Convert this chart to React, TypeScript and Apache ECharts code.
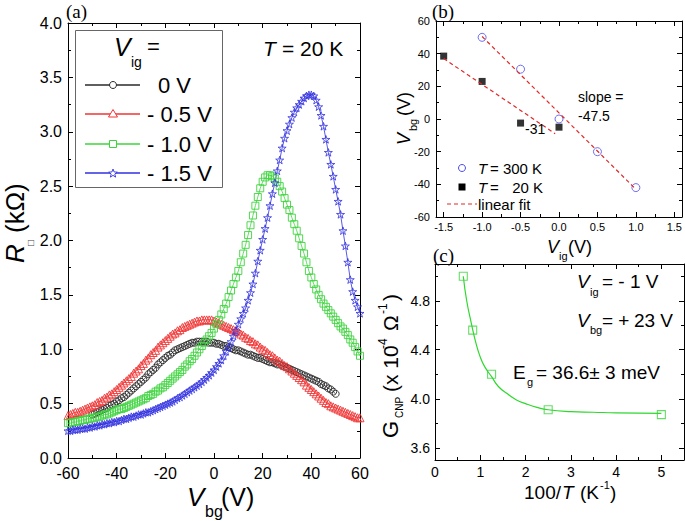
import React, { useEffect, useRef } from 'react';
import * as echarts from 'echarts';

const SANS = '"Liberation Sans", Arial, Helvetica, sans-serif';
const SERIF = '"Liberation Serif", "Times New Roman", serif';

const C_BLACK = '#2a2a2a';
const C_RED = '#f03434';
const C_GREEN = '#3ed43e';
const C_BLUE = '#3030e0';

// ---------- panel (a): R_sq (kOhm) vs V_bg (V), sweep every 1 V ----------
const VBG = [
  -60, -59, -58, -57, -56, -55, -54, -53, -52, -51,
  -50, -49, -48, -47, -46, -45, -44, -43, -42, -41,
  -40, -39, -38, -37, -36, -35, -34, -33, -32, -31,
  -30, -29, -28, -27, -26, -25, -24, -23, -22, -21,
  -20, -19, -18, -17, -16, -15, -14, -13, -12, -11,
  -10, -9, -8, -7, -6, -5, -4, -3, -2, -1,
  0, 1, 2, 3, 4, 5, 6, 7, 8, 9,
  10, 11, 12, 13, 14, 15, 16, 17, 18, 19,
  20, 21, 22, 23, 24, 25, 26, 27, 28, 29,
  30, 31, 32, 33, 34, 35, 36, 37, 38, 39,
  40, 41, 42, 43, 44, 45, 46, 47, 48, 49,
  50, 51, 52, 53, 54, 55, 56, 57, 58, 59,
  60,
];
// 0 V curve runs from -50 V to 50 V
const VBG_0V = VBG.slice(10, 111);
const R_0V = [
  0.40, 0.41, 0.42, 0.43, 0.44, 0.45, 0.46, 0.48, 0.49, 0.50,
  0.52, 0.53, 0.55, 0.56, 0.58, 0.60, 0.62, 0.64, 0.66, 0.68,
  0.70, 0.72, 0.74, 0.77, 0.79, 0.81, 0.83, 0.86, 0.88, 0.90,
  0.92, 0.94, 0.95, 0.97, 0.99, 1.00, 1.01, 1.02, 1.03, 1.04,
  1.05, 1.06, 1.06, 1.07, 1.07, 1.07, 1.07, 1.07, 1.06, 1.06,
  1.06, 1.05, 1.05, 1.04, 1.03, 1.03, 1.02, 1.01, 1.00, 0.99,
  0.99, 0.98, 0.97, 0.96, 0.95, 0.95, 0.94, 0.93, 0.92, 0.92,
  0.91, 0.90, 0.89, 0.88, 0.88, 0.87, 0.86, 0.86, 0.85, 0.84,
  0.83, 0.82, 0.81, 0.80, 0.79, 0.78, 0.77, 0.76, 0.75, 0.74,
  0.73, 0.72, 0.71, 0.70, 0.68, 0.67, 0.66, 0.64, 0.63, 0.61,
  0.59,
];
const R_05V = [
  0.39, 0.40, 0.41, 0.42, 0.42, 0.43, 0.44, 0.45, 0.46, 0.47,
  0.48, 0.49, 0.51, 0.52, 0.53, 0.55, 0.56, 0.58, 0.59, 0.61,
  0.63, 0.65, 0.67, 0.69, 0.71, 0.73, 0.75, 0.78, 0.80, 0.82,
  0.85, 0.87, 0.90, 0.92, 0.95, 0.97, 0.99, 1.02, 1.04, 1.06,
  1.08, 1.10, 1.12, 1.14, 1.15, 1.17, 1.18, 1.20, 1.21, 1.22,
  1.23, 1.24, 1.25, 1.26, 1.26, 1.27, 1.27, 1.27, 1.27, 1.27,
  1.26, 1.25, 1.24, 1.23, 1.22, 1.21, 1.20, 1.19, 1.18, 1.17,
  1.16, 1.14, 1.13, 1.11, 1.10, 1.08, 1.07, 1.05, 1.04, 1.02,
  1.00, 0.99, 0.97, 0.95, 0.94, 0.92, 0.90, 0.89, 0.87, 0.85,
  0.84, 0.82, 0.80, 0.78, 0.76, 0.74, 0.72, 0.70, 0.67, 0.65,
  0.63, 0.61, 0.59, 0.57, 0.55, 0.53, 0.51, 0.50, 0.48, 0.47,
  0.46, 0.45, 0.44, 0.43, 0.42, 0.41, 0.40, 0.39, 0.38, 0.37,
  0.37,
];
const R_10V = [
  0.32, 0.32, 0.33, 0.33, 0.34, 0.34, 0.35, 0.35, 0.36, 0.36,
  0.37, 0.37, 0.38, 0.38, 0.39, 0.40, 0.40, 0.41, 0.42, 0.43,
  0.44, 0.45, 0.45, 0.46, 0.47, 0.48, 0.49, 0.50, 0.51, 0.52,
  0.53, 0.54, 0.55, 0.57, 0.58, 0.59, 0.61, 0.62, 0.64, 0.65,
  0.67, 0.69, 0.71, 0.73, 0.75, 0.77, 0.79, 0.81, 0.84, 0.86,
  0.89, 0.91, 0.94, 0.97, 1.00, 1.03, 1.06, 1.09, 1.12, 1.15,
  1.19, 1.23, 1.27, 1.32, 1.37, 1.42, 1.48, 1.54, 1.60, 1.66,
  1.72, 1.80, 1.88, 1.96, 2.05, 2.14, 2.23, 2.32, 2.40, 2.48,
  2.54, 2.58, 2.60, 2.60, 2.59, 2.57, 2.54, 2.50, 2.45, 2.39,
  2.33, 2.28, 2.21, 2.15, 2.09, 2.02, 1.95, 1.88, 1.80, 1.72,
  1.66, 1.60, 1.55, 1.50, 1.46, 1.42, 1.39, 1.36, 1.33, 1.30,
  1.27, 1.24, 1.21, 1.19, 1.16, 1.13, 1.09, 1.06, 1.02, 0.98,
  0.94,
];
const R_15V = [
  0.25, 0.25, 0.26, 0.26, 0.26, 0.27, 0.27, 0.27, 0.28, 0.28,
  0.29, 0.29, 0.30, 0.30, 0.31, 0.31, 0.32, 0.32, 0.33, 0.33,
  0.34, 0.34, 0.35, 0.36, 0.36, 0.37, 0.38, 0.38, 0.39, 0.40,
  0.40, 0.41, 0.42, 0.42, 0.43, 0.44, 0.45, 0.46, 0.47, 0.48,
  0.49, 0.50, 0.51, 0.52, 0.535, 0.55, 0.56, 0.575, 0.59, 0.605,
  0.62, 0.635, 0.65, 0.665, 0.68, 0.70, 0.72, 0.74, 0.76, 0.785,
  0.81, 0.84, 0.87, 0.90, 0.94, 0.98, 1.02, 1.07, 1.12, 1.17,
  1.23, 1.28, 1.33, 1.38, 1.45, 1.52, 1.60, 1.70, 1.81, 1.91,
  2.01, 2.11, 2.21, 2.32, 2.43, 2.53, 2.64, 2.74, 2.85, 2.94,
  3.01, 3.07, 3.13, 3.18, 3.22, 3.25, 3.28, 3.31, 3.33, 3.34,
  3.34, 3.33, 3.29, 3.23, 3.15, 3.05, 2.93, 2.81, 2.70, 2.59,
  2.47, 2.36, 2.24, 2.09, 1.95, 1.80, 1.64, 1.53, 1.45, 1.39,
  1.33,
];
const A_X_TICKS = [-60, -40, -20, 0, 20, 40, 60];
const A_X_MINOR = [-50, -30, -10, 10, 30, 50];
const A_Y_TICKS = [0, 0.5, 1, 1.5, 2, 2.5, 3, 3.5, 4];
const A_Y_MINOR = [0.25, 0.75, 1.25, 1.75, 2.25, 2.75, 3.25, 3.75];
const A_LEGEND = ['0 V', '- 0.5 V', '- 1.0 V', '- 1.5 V'];

// ---------- panel (b): CNP position V_bg vs V_ig ----------
const VIG_300K = [-1, -0.5, 0, 0.5, 1];
const VBG_300K = [50, 30.5, 0, -20, -42];
const VIG_20K = [-1.5, -1, -0.5, 0];
const VBG_20K = [38.5, 23, -2.5, -5];
const FIT_300K_X = [-1, 1];
const FIT_300K_Y = [50.5, -43];
const FIT_20K_X = [-1.5, -0.05];
const FIT_20K_Y = [37, -9];
const B_X_TICKS = [-1.5, -1, -0.5, 0, 0.5, 1, 1.5];
const B_X_MINOR = [-1.25, -0.75, -0.25, 0.25, 0.75, 1.25];
const B_Y_TICKS = [-60, -40, -20, 0, 20, 40, 60];
const B_Y_MINOR = [-50, -30, -10, 10, 30, 50];

// ---------- panel (c): G_CNP vs 100/T ----------
const INV_T = [0.625, 0.833, 1.25, 2.5, 5];
const G_CNP = [5.0, 4.56, 4.2, 3.91, 3.87];
const FIT_INV_T = [0.625, 0.7, 0.8, 0.9, 1.0, 1.1, 1.25, 1.4, 1.6, 1.8, 2.0, 2.25, 2.5, 3.0, 3.5, 4.0, 5.0];
const FIT_G = [5.0, 4.80, 4.62, 4.46, 4.34, 4.26, 4.18, 4.10, 4.04, 3.99, 3.96, 3.93, 3.91, 3.895, 3.89, 3.885, 3.88];
const C_X_TICKS = [0, 1, 2, 3, 4, 5];
const C_X_MINOR = [0.5, 1.5, 2.5, 3.5, 4.5];
const C_Y_TICKS = [3.6, 4.0, 4.4, 4.8];
const C_Y_MINOR = [3.8, 4.2, 4.6, 5.0];

const STAR_PATH =
  'path://M50,0 L61.8,34.5 L97.6,34.5 L68.8,55.9 L79.4,90.5 L50,69.1 L20.6,90.5 L31.2,55.9 L2.4,34.5 L38.2,34.5 Z';

function axesSet(dim: 'x' | 'y', grid: number, min: number, max: number, majors: number[], minors: number[],
  fmt: (v: number) => string, fs: number, margin: number) {
  const base: any = { type: 'value', gridIndex: grid, min, max, splitLine: { show: false }, silent: true };
  const sides = dim === 'x' ? ['bottom', 'top'] : ['left', 'right'];
  const tick = (vals: number[], len: number) => ({
    show: true, inside: true, length: len, customValues: vals, lineStyle: { color: '#000', width: 1 },
  });
  return [
    {
      ...base, position: sides[0],
      axisLine: { show: true, onZero: false, lineStyle: { color: '#000', width: 1 } },
      axisTick: tick(majors, 5),
      axisLabel: { show: true, customValues: majors, formatter: fmt, fontSize: fs, fontFamily: SANS, color: '#000', margin },
    },
    {
      ...base, position: sides[1],
      axisLine: { show: true, onZero: false, lineStyle: { color: '#000', width: 1 } },
      axisTick: tick(majors, 5), axisLabel: { show: false },
    },
    { ...base, position: sides[0], axisLine: { show: false, onZero: false }, axisTick: tick(minors, 3), axisLabel: { show: false } },
    { ...base, position: sides[1], axisLine: { show: false, onZero: false }, axisTick: tick(minors, 3), axisLabel: { show: false } },
  ];
}

function txt(text: string, x: number, y: number, o: any = {}) {
  return {
    type: 'text', x, y, rotation: o.rot || 0, silent: true, z: 100,
    style: {
      text, fill: o.fill || '#000', fontSize: o.size || 16, fontFamily: o.family || SANS,
      fontStyle: o.italic ? 'italic' : 'normal',
      textAlign: o.align || 'left', align: o.align || 'left',
      textVerticalAlign: 'middle', verticalAlign: 'middle',
    },
  };
}

function starPoints(cx: number, cy: number, r: number) {
  const pts: number[][] = [];
  for (let k = 0; k < 10; k++) {
    const rr = k % 2 === 0 ? r : r * 0.42;
    const a = -Math.PI / 2 + (k * Math.PI) / 5;
    pts.push([cx + rr * Math.cos(a), cy + rr * Math.sin(a)]);
  }
  return pts;
}

function buildOption() {
  const pair = (xs: number[], ys: number[]) => xs.map((x, i) => [x, ys[i]]);
  const aSeries = (name: string, xs: number[], ys: number[], color: string, symbol: string, size: number, bw: number) => ({
    type: 'line', name, xAxisIndex: 0, yAxisIndex: 0, data: pair(xs, ys),
    symbol, symbolSize: size, showAllSymbol: true, symbolKeepAspect: true,
    itemStyle: { color: 'rgba(255,255,255,0)', borderColor: color, borderWidth: bw },
    lineStyle: { color, width: 0.8 }, silent: true, emphasis: { disabled: true },
  });

  const R = Math.PI / 2;
  const legendY = [85, 114, 144, 173];
  const legendColors = [C_BLACK, C_RED, C_GREEN, C_BLUE];

  const graphics: any[] = [
    // panel labels
    txt('(a)', 66, 11, { size: 19, family: SERIF }),
    txt('(b)', 432, 11, { size: 19, family: SERIF }),
    txt('(c)', 433, 255, { size: 19, family: SERIF }),

    // (a) annotation
    txt('T', 263, 48, { size: 21, italic: true }),
    txt('= 20 K', 282, 48, { size: 21 }),

    // (a) legend box
    { type: 'rect', z: 90, silent: true, shape: { x: 75.5, y: 30.5, width: 147, height: 157 }, style: { fill: '#fff', stroke: '#666', lineWidth: 1 } },
    txt('V', 114, 47, { size: 25, italic: true }),
    txt('ig', 131, 62, { size: 14 }),
    txt('=', 147, 46, { size: 22 }),
    txt(A_LEGEND[0], 158, legendY[0], { size: 22 }),
    txt(A_LEGEND[1], 147, legendY[1], { size: 22 }),
    txt(A_LEGEND[2], 147, legendY[2], { size: 22 }),
    txt(A_LEGEND[3], 147, legendY[3], { size: 22 }),

    // (a) axis titles
    txt('V', 187, 497, { size: 26, italic: true }),
    txt('bg', 205, 511, { size: 16 }),
    txt('(V)', 221, 497, { size: 25 }),
    txt('R', 15, 263, { size: 26, italic: true, rot: R }),
    txt('\u25A1', 30, 246, { size: 10, rot: R, fill: '#444' }),
    txt('(k\u03A9)', 15, 233, { size: 26, rot: R }),

    // (b) axis titles
    txt('V', 404, 145, { size: 18, italic: true, rot: R }),
    txt('bg', 413, 131, { size: 11, rot: R }),
    txt('(V)', 404, 116, { size: 18, rot: R }),
    txt('V', 547, 247, { size: 18, italic: true }),
    txt('ig', 559, 256, { size: 11 }),
    txt('(V)', 568, 247, { size: 18 }),
    // (b) annotations
    txt('slope =', 578, 97, { size: 14 }),
    txt('-47.5', 578, 116, { size: 14 }),
    txt('-31', 525, 129, { size: 14 }),
    // (b) legend
    { type: 'circle', z: 95, silent: true, shape: { cx: 462, cy: 168, r: 3.5 }, style: { fill: 'none', stroke: '#4b4bea', lineWidth: 1 } },
    { type: 'rect', z: 95, silent: true, shape: { x: 458.5, y: 183.5, width: 7, height: 7 }, style: { fill: '#000' } },
    { type: 'line', z: 95, silent: true, shape: { x1: 447, y1: 204, x2: 477, y2: 204 }, style: { stroke: '#e02828', lineWidth: 1.2, lineDash: [4, 3] } },
    txt('T', 478, 168, { size: 15, italic: true }),
    txt('= 300 K', 490, 168, { size: 15 }),
    txt('T', 478, 187, { size: 15, italic: true }),
    txt('=', 490, 187, { size: 15 }),
    txt('20 K', 543, 187, { size: 15, align: 'right' }),
    txt('linear fit', 478, 204, { size: 15 }),

    // (c) annotations
    txt('V', 577, 281, { size: 19, italic: true }),
    txt('ig', 590, 292, { size: 11 }),
    txt('= - 1 V', 602, 281, { size: 19 }),
    txt('V', 577, 320, { size: 19, italic: true }),
    txt('bg', 590, 330, { size: 11 }),
    txt('= +', 602, 320, { size: 19 }),
    txt('23 V', 673, 320, { size: 19, align: 'right' }),
    txt('E', 513, 372, { size: 19 }),
    txt('g', 527, 382, { size: 11 }),
    txt('= 36.6\u00B1 3 meV', 536, 372, { size: 19 }),
    // (c) axis titles
    txt('100/', 524, 492, { size: 19 }),
    txt('T', 562, 492, { size: 19, italic: true }),
    txt('(K', 580, 492, { size: 19 }),
    txt('-1', 600, 485, { size: 11 }),
    txt(')', 610, 492, { size: 19 }),
    txt('G', 390, 438, { size: 22, rot: R }),
    txt('CNP', 399, 418, { size: 10, rot: R }),
    txt('(x 10', 390, 392, { size: 21, rot: R }),
    txt('-4', 383, 349, { size: 12, rot: R }),
    txt('\u03A9', 390, 331, { size: 21, rot: R }),
    txt('-1', 383, 314, { size: 12, rot: R }),
    txt(')', 390, 301, { size: 21, rot: R }),
  ];

  // (a) legend sample lines + markers
  legendY.forEach((y, i) => {
    graphics.push({ type: 'line', z: 95, silent: true, shape: { x1: 85, y1: y, x2: 140, y2: y }, style: { stroke: legendColors[i], lineWidth: 1.3 } });
  });
  graphics.push({ type: 'circle', z: 96, silent: true, shape: { cx: 113, cy: legendY[0], r: 3.5 }, style: { fill: '#fff', stroke: C_BLACK, lineWidth: 1 } });
  graphics.push({ type: 'polygon', z: 96, silent: true, shape: { points: [[113, legendY[1] - 4.5], [117.5, legendY[1] + 3], [108.5, legendY[1] + 3]] }, style: { fill: '#fff', stroke: C_RED, lineWidth: 1 } });
  graphics.push({ type: 'rect', z: 96, silent: true, shape: { x: 109.5, y: legendY[2] - 3.5, width: 7, height: 7 }, style: { fill: '#fff', stroke: C_GREEN, lineWidth: 1 } });
  graphics.push({ type: 'polygon', z: 96, silent: true, shape: { points: starPoints(113, legendY[3] + 0.5, 4.5) }, style: { fill: '#fff', stroke: C_BLUE, lineWidth: 0.9 } });

  const fmt1 = (v: number) => v.toFixed(1);
  const fmt0 = (v: number) => String(Math.round(v));

  return {
    animation: false,
    backgroundColor: '#fff',
    grid: [
      { left: 68, top: 23, width: 292, height: 435, outerBoundsMode: 'none', containLabel: false },
      { left: 436, top: 21, width: 246, height: 196, outerBoundsMode: 'none', containLabel: false },
      { left: 435, top: 264, width: 249, height: 196, outerBoundsMode: 'none', containLabel: false },
    ],
    xAxis: [
      ...axesSet('x', 0, -60, 60, A_X_TICKS, A_X_MINOR, fmt0, 16, 7),
      ...axesSet('x', 1, -1.6, 1.6, B_X_TICKS, B_X_MINOR, fmt1, 11, 4),
      ...axesSet('x', 2, 0, 5.5, C_X_TICKS, C_X_MINOR, fmt0, 14, 5),
    ],
    yAxis: [
      ...axesSet('y', 0, 0, 4, A_Y_TICKS, A_Y_MINOR, fmt1, 16, 6),
      ...axesSet('y', 1, -60, 60, B_Y_TICKS, B_Y_MINOR, fmt0, 11, 6),
      ...axesSet('y', 2, 3.5, 5.1, C_Y_TICKS, C_Y_MINOR, fmt1, 14, 5),
    ],
    series: [
      aSeries(A_LEGEND[0], VBG_0V, R_0V, C_BLACK, 'circle', 7, 0.9),
      aSeries(A_LEGEND[1], VBG, R_05V, C_RED, 'triangle', 8, 0.9),
      aSeries(A_LEGEND[2], VBG, R_10V, C_GREEN, 'rect', 7, 0.9),
      aSeries(A_LEGEND[3], VBG, R_15V, C_BLUE, STAR_PATH, 8, 0.8),

      {
        type: 'line', name: 'fit 300 K', xAxisIndex: 4, yAxisIndex: 4, data: pair(FIT_300K_X, FIT_300K_Y),
        symbol: 'none', lineStyle: { color: '#e02828', width: 1.2, type: [4, 3] }, silent: true,
      },
      {
        type: 'line', name: 'fit 20 K', xAxisIndex: 4, yAxisIndex: 4, data: pair(FIT_20K_X, FIT_20K_Y),
        symbol: 'none', lineStyle: { color: '#e02828', width: 1.2, type: [4, 3] }, silent: true,
      },
      {
        type: 'scatter', name: 'T = 300 K', xAxisIndex: 4, yAxisIndex: 4, data: pair(VIG_300K, VBG_300K),
        symbol: 'circle', symbolSize: 8, silent: true,
        itemStyle: { color: 'rgba(255,255,255,0)', borderColor: '#4b4bea', borderWidth: 1 },
      },
      {
        type: 'scatter', name: 'T = 20 K', xAxisIndex: 4, yAxisIndex: 4, data: pair(VIG_20K, VBG_20K),
        symbol: 'rect', symbolSize: 7, silent: true, itemStyle: { color: '#000' },
      },

      {
        type: 'line', name: 'fit', xAxisIndex: 8, yAxisIndex: 8, data: pair(FIT_INV_T, FIT_G),
        symbol: 'none', smooth: true, lineStyle: { color: '#2ed82e', width: 1.2 }, silent: true,
      },
      {
        type: 'scatter', name: 'G_CNP', xAxisIndex: 8, yAxisIndex: 8, data: pair(INV_T, G_CNP),
        symbol: 'rect', symbolSize: 8, silent: true,
        itemStyle: { color: 'rgba(255,255,255,0)', borderColor: '#3ed43e', borderWidth: 1.1 },
      },
    ],
    graphic: { elements: graphics },
  };
}

export default function App() {
  const ref = useRef<HTMLDivElement>(null);
  useEffect(() => {
    document.body.style.margin = '0';
    const chart = echarts.init(ref.current as HTMLDivElement, null, { renderer: 'svg' });
    chart.setOption(buildOption() as any);
    return () => chart.dispose();
  }, []);
  return (
    <div
      ref={ref}
      style={{ position: 'absolute', left: 0, top: 0, width: 685, height: 521, background: '#fff' }}
    />
  );
}
